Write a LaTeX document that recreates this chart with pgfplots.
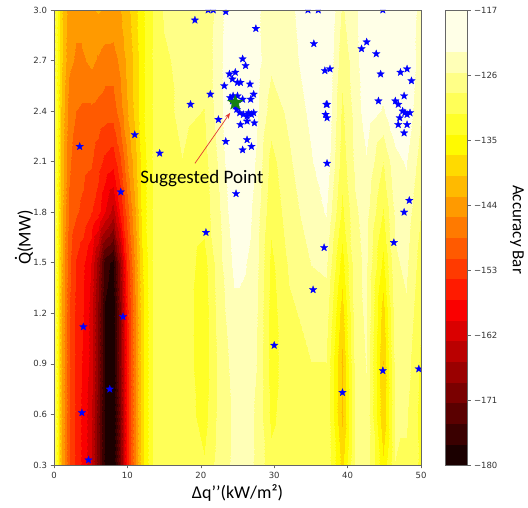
\documentclass[border=0pt]{standalone}
\usepackage{pgfplots}
\pgfplotsset{compat=1.18}
\usepackage{fontspec}
\setmainfont{Carlito}
\newfontfamily\dejavu{DejaVu Sans}
\usetikzlibrary{arrows.meta}
\definecolor{starblue}{RGB}{0,0,255}
\definecolor{stargreen}{RGB}{20,128,20}
\definecolor{arrowred}{RGB}{225,60,50}
\newcommand\Qdot{\leavevmode\setbox0\hbox{Q}\hbox to \wd0{\hss\raisebox{0.17em}{˙}\hss}\kern-\wd0\box0}
\pgfdeclareplotmark{fstar}{%
  \pgfpathmoveto{\pgfpointpolar{90}{\pgfplotmarksize}}%
  \pgfpathlineto{\pgfpointpolar{126}{0.42\pgfplotmarksize}}%
  \pgfpathlineto{\pgfpointpolar{162}{\pgfplotmarksize}}%
  \pgfpathlineto{\pgfpointpolar{198}{0.42\pgfplotmarksize}}%
  \pgfpathlineto{\pgfpointpolar{234}{\pgfplotmarksize}}%
  \pgfpathlineto{\pgfpointpolar{270}{0.42\pgfplotmarksize}}%
  \pgfpathlineto{\pgfpointpolar{306}{\pgfplotmarksize}}%
  \pgfpathlineto{\pgfpointpolar{342}{0.42\pgfplotmarksize}}%
  \pgfpathlineto{\pgfpointpolar{18}{\pgfplotmarksize}}%
  \pgfpathlineto{\pgfpointpolar{54}{0.42\pgfplotmarksize}}%
  \pgfpathclose
  \pgfusepathqfillstroke}
\begin{document}
\begin{tikzpicture}
\begin{axis}[
  name=main,
  scale only axis, width=367bp, height=455bp,
  view={0}{90},
  xmin=0, xmax=50, ymin=0.3, ymax=3.0,
  xtick={0,10,20,30,40,50}, xticklabels={0,10,20,30,40,50},
  ytick={0.3,0.6,0.9,1.2,1.5,1.8,2.1,2.4,2.7,3.0},
  yticklabels={0.3,0.6,0.9,1.2,1.5,1.8,2.1,2.4,2.7,3.0},
  ztick=\empty,
  xtick pos=left, ytick pos=left,
  tick label style={font=\dejavu\fontsize{8.5bp}{10bp}\selectfont, text=black!80},
  tick align=outside, major tick length=3.5bp,
  tick style={black!60, line width=0.6bp},
  axis line style={black!60, line width=0.6bp},
  axis on top,
  colormap={mhot}{rgb255=(27,0,0) rgb255=(58,0,0) rgb255=(90,0,0) rgb255=(122,0,0)
    rgb255=(154,0,0) rgb255=(186,0,0) rgb255=(218,0,0) rgb255=(250,0,0)
    rgb255=(255,27,0) rgb255=(255,58,0) rgb255=(255,90,0) rgb255=(255,122,0)
    rgb255=(255,154,0) rgb255=(255,186,0) rgb255=(255,218,0) rgb255=(255,250,0)
    rgb255=(255,255,40) rgb255=(255,255,88) rgb255=(255,255,135) rgb255=(255,255,183)
    rgb255=(255,255,231) rgb255=(255,255,231)},
  colormap access=piecewise constant,
  point meta min=-180, point meta max=-117,
  colorbar,
  colorbar shift/.style={xshift=24bp},
  colorbar style={
    at={(parent axis.north east)}, anchor=north west,
    width=22bp,
    colormap access=piecewise constant,
    ytick={-180,-171,-162,-153,-144,-135,-126,-117},
    yticklabels={−180,−171,−162,−153,−144,−135,−126,−117},
    yticklabel style={font=\dejavu\fontsize{8.5bp}{10bp}\selectfont, text=black!80},
    tick align=outside, major tick length=3.5bp,
    ytick pos=right,
    tick style={black!60, line width=0.6bp},
    axis line style={black!60, line width=0.6bp},
  },
  clip marker paths=true,
  xlabel={Δq’’(kW/m²)},
  ylabel={\Qdot(MW)},
  every axis x label/.style={at={(axis description cs:0.5,0)}, anchor=center, yshift=-28bp, font=\fontsize{18bp}{21bp}\selectfont},
  every axis y label/.style={at={(axis description cs:-0.0817,0.5)}, anchor=center, rotate=90, font=\fontsize{18bp}{21bp}\selectfont},
]
\addplot3[surf, shader=interp, mesh/rows=10, mesh/cols=32] coordinates {
(0,0.3,-128) (1,0.3,-142) (2,0.3,-151) (3,0.3,-155) (4,0.3,-158) (5,0.3,-162) (6,0.3,-170) (7,0.3,-178) (8,0.3,-180) (9,0.3,-170) (10,0.3,-156) (11,0.3,-146) (12,0.3,-138) (13.5,0.3,-131) (15,0.3,-129) (17.5,0.3,-129.5) (20.5,0.3,-131) (22.5,0.3,-127) (24.5,0.3,-125) (26,0.3,-124.5) (27.5,0.3,-126) (29.5,0.3,-130.5) (32,0.3,-129) (35,0.3,-129) (37,0.3,-129) (39.2,0.3,-138) (41,0.3,-128) (42.5,0.3,-126.5) (44.8,0.3,-136.5) (46.5,0.3,-128.5) (48,0.3,-129) (50,0.3,-132)

(0,0.6,-128) (1,0.6,-142) (2,0.6,-151) (3,0.6,-155) (4,0.6,-158) (5,0.6,-162) (6,0.6,-170) (7,0.6,-178) (8,0.6,-180) (9,0.6,-170) (10,0.6,-156) (11,0.6,-146) (12,0.6,-138) (13.5,0.6,-131) (15,0.6,-129.5) (17.5,0.6,-129.5) (20.5,0.6,-132.5) (22.5,0.6,-127.5) (24.5,0.6,-125) (26,0.6,-124) (27.5,0.6,-126) (29.5,0.6,-132) (32,0.6,-129.5) (35,0.6,-129) (37,0.6,-129) (39.2,0.6,-140.5) (41,0.6,-128) (42.5,0.6,-126) (44.8,0.6,-139.5) (46.5,0.6,-128) (48,0.6,-128) (50,0.6,-132.5)

(0,0.9,-128) (1,0.9,-142) (2,0.9,-151) (3,0.9,-155) (4,0.9,-157.5) (5,0.9,-161) (6,0.9,-169) (7,0.9,-177.5) (8,0.9,-179.5) (9,0.9,-169) (10,0.9,-156) (11,0.9,-146) (12,0.9,-138) (13.5,0.9,-131) (15,0.9,-129.5) (17.5,0.9,-129.5) (20.5,0.9,-133) (22.5,0.9,-127.5) (24.5,0.9,-124.5) (26,0.9,-124) (27.5,0.9,-125.5) (29.5,0.9,-132.5) (32,0.9,-129.5) (35,0.9,-128.5) (37,0.9,-128.5) (39.2,0.9,-140.5) (41,0.9,-127.5) (42.5,0.9,-125.5) (44.8,0.9,-140) (46.5,0.9,-127.5) (48,0.9,-127) (50,0.9,-132)

(0,1.2,-128) (1,1.2,-142) (2,1.2,-151) (3,1.2,-155) (4,1.2,-157) (5,1.2,-161) (6,1.2,-169) (7,1.2,-177.5) (8,1.2,-179) (9,1.2,-169) (10,1.2,-155.5) (11,1.2,-146) (12,1.2,-138) (13.5,1.2,-131) (15,1.2,-129.5) (17.5,1.2,-129.5) (20.5,1.2,-133) (22.5,1.2,-127) (24.5,1.2,-123.5) (26,1.2,-123.5) (27.5,1.2,-125) (29.5,1.2,-132.5) (32,1.2,-129) (35,1.2,-127.5) (37,1.2,-127) (39.2,1.2,-138.5) (41,1.2,-127) (42.5,1.2,-125) (44.8,1.2,-138.5) (46.5,1.2,-127) (48,1.2,-126) (50,1.2,-131)

(0,1.5,-128) (1,1.5,-141.5) (2,1.5,-150.5) (3,1.5,-154.5) (4,1.5,-156.5) (5,1.5,-160) (6,1.5,-167) (7,1.5,-176) (8,1.5,-178) (9,1.5,-167) (10,1.5,-154) (11,1.5,-145) (12,1.5,-137.5) (13.5,1.5,-131) (15,1.5,-129.5) (17.5,1.5,-129.5) (20.5,1.5,-132.5) (22.5,1.5,-126.5) (24.5,1.5,-122) (26,1.5,-122.5) (27.5,1.5,-124.5) (29.5,1.5,-132) (32,1.5,-128) (35,1.5,-125.5) (37,1.5,-125) (39.2,1.5,-135.5) (41,1.5,-126.5) (42.5,1.5,-125) (44.8,1.5,-135) (46.5,1.5,-126) (48,1.5,-125) (50,1.5,-130)

(0,1.8,-128) (1,1.8,-141) (2,1.8,-149) (3,1.8,-151) (4,1.8,-152) (5,1.8,-154) (6,1.8,-156) (7,1.8,-160) (8,1.8,-164) (9,1.8,-157) (10,1.8,-150) (11,1.8,-143) (12,1.8,-136) (13.5,1.8,-131) (15,1.8,-129) (17.5,1.8,-129) (20.5,1.8,-130) (22.5,1.8,-126) (24.5,1.8,-120.5) (26,1.8,-121) (27.5,1.8,-124) (29.5,1.8,-130.5) (32,1.8,-127) (35,1.8,-124) (37,1.8,-122.5) (39.2,1.8,-132) (41,1.8,-126) (42.5,1.8,-124.5) (44.8,1.8,-131.5) (46.5,1.8,-125) (48,1.8,-124) (50,1.8,-128.5)

(0,2.1,-129) (1,2.1,-140) (2,2.1,-148) (3,2.1,-150) (4,2.1,-150.5) (5,2.1,-151) (6,2.1,-153) (7,2.1,-155) (8,2.1,-156) (9,2.1,-152) (10,2.1,-146) (11,2.1,-141) (12,2.1,-136) (13.5,2.1,-131) (15,2.1,-129) (17.5,2.1,-128.5) (20.5,2.1,-129.5) (22.5,2.1,-125) (24.5,2.1,-119) (26,2.1,-120) (27.5,2.1,-123) (29.5,2.1,-129.5) (32,2.1,-126) (35,2.1,-123) (37,2.1,-120.5) (39.2,2.1,-130) (41,2.1,-125) (42.5,2.1,-123) (44.8,2.1,-128.5) (46.5,2.1,-123.5) (48,2.1,-122.5) (50,2.1,-127)

(0,2.4,-129) (1,2.4,-140) (2,2.4,-147) (3,2.4,-148.5) (4,2.4,-149) (5,2.4,-149) (6,2.4,-149.5) (7,2.4,-150) (8,2.4,-150) (9,2.4,-147) (10,2.4,-143) (11,2.4,-139) (12,2.4,-135) (13.5,2.4,-131) (15,2.4,-129) (17.5,2.4,-128) (20.5,2.4,-128.5) (22.5,2.4,-124) (24.5,2.4,-118) (26,2.4,-119.5) (27.5,2.4,-122) (29.5,2.4,-127) (32,2.4,-125) (35,2.4,-122) (37,2.4,-119.5) (39.2,2.4,-129) (41,2.4,-124.5) (42.5,2.4,-121) (44.8,2.4,-123) (46.5,2.4,-121) (48,2.4,-120.5) (50,2.4,-125.5)

(0,2.7,-130) (1,2.7,-139) (2,2.7,-145) (3,2.7,-146) (4,2.7,-146) (5,2.7,-145) (6,2.7,-146) (7,2.7,-147) (8,2.7,-147) (9,2.7,-145) (10,2.7,-142) (11,2.7,-139) (12,2.7,-135) (13.5,2.7,-131) (15,2.7,-129) (17.5,2.7,-127.5) (20.5,2.7,-127.5) (22.5,2.7,-124) (24.5,2.7,-118) (26,2.7,-119.5) (27.5,2.7,-121.5) (29.5,2.7,-125) (32,2.7,-124) (35,2.7,-121) (37,2.7,-119) (39.2,2.7,-127.5) (41,2.7,-124) (42.5,2.7,-120) (44.8,2.7,-120.5) (46.5,2.7,-120) (48,2.7,-119.5) (50,2.7,-124.5)

(0,3.0,-130) (1,3.0,-139) (2,3.0,-144) (3,3.0,-145) (4,3.0,-144) (5,3.0,-143) (6,3.0,-142.5) (7,3.0,-143) (8,3.0,-143.5) (9,3.0,-143) (10,3.0,-141) (11,3.0,-138) (12,3.0,-135) (13.5,3.0,-131) (15,3.0,-128) (17.5,3.0,-127) (20.5,3.0,-127.5) (22.5,3.0,-124.5) (24.5,3.0,-118.5) (26,3.0,-120) (27.5,3.0,-122) (29.5,3.0,-124.5) (32,3.0,-123.5) (35,3.0,-120.5) (37,3.0,-118.5) (39.2,3.0,-126) (41,3.0,-123.5) (42.5,3.0,-120) (44.8,3.0,-119.5) (46.5,3.0,-120.5) (48,3.0,-120) (50,3.0,-124)
};
\addplot[only marks, mark=fstar, mark size=4bp, draw=starblue, fill=starblue, line width=0.2bp] coordinates {
(3.5,2.19) (11.0,2.26) (14.4,2.15) (9.1,1.92) (18.6,2.44) (19.2,2.94) (21.0,3.0) (21.7,3.0) (23.4,2.99) (27.5,2.89)
(20.7,1.68) (24.8,1.91) (21.3,2.50) (22.4,2.35) (23.4,2.22) (25.7,2.17) (26.9,2.19) (26.3,2.23) (25.7,2.71) (26.1,2.67)
(23.9,2.62) (24.7,2.63) (24.3,2.59) (25.0,2.57) (25.4,2.57) (26.7,2.56) (23.2,2.55) (27.2,2.50) (26.8,2.47) (25.7,2.47)
(24.0,2.48) (24.4,2.49) (25.0,2.49) (24.3,2.46) (24.7,2.43) (24.9,2.41) (25.3,2.39) (25.8,2.38) (26.3,2.37) (26.5,2.39)
(26.9,2.38) (27.2,2.39) (25.4,2.32) (26.3,2.34) (27.3,2.33)
(34.6,3.0) (36.0,3.0) (44.8,3.0) (35.4,2.80) (41.9,2.77) (42.6,2.81) (43.9,2.74) (36.9,2.64) (37.6,2.65) (44.5,2.62)
(47.2,2.63) (48.1,2.65) (48.7,2.58) (44.2,2.46) (37.1,2.44) (37.2,2.44) (37.0,2.38) (37.2,2.36) (46.5,2.46) (46.9,2.44)
(47.7,2.49) (47.5,2.40) (47.8,2.39) (48.1,2.38) (48.5,2.39) (47.1,2.36) (46.9,2.32) (48.1,2.32) (47.7,2.27) (37.2,2.09)
(48.4,1.87) (47.7,1.80) (46.3,1.62) (36.8,1.59)
(4.0,1.12) (9.4,1.18) (7.6,0.75) (3.8,0.61) (4.7,0.33) (35.3,1.34) (30.0,1.01) (39.3,0.73) (44.8,0.86) (49.7,0.87)
};
\addplot[only marks, mark=fstar, mark size=8bp, draw=stargreen, fill=stargreen, line width=0.2bp] coordinates {(24.7,2.45)};
\draw[arrowred, line width=0.7bp, -{Stealth[length=6bp,width=4.5bp]}] (axis cs:19.2,2.09) -- (axis cs:24.0,2.39);
\node[anchor=base, font=\fontsize{19bp}{22bp}\selectfont] at (axis cs:20.16,1.973) {Suggested Point};
\end{axis}
\node[rotate=-90, font=\fontsize{17bp}{20bp}\selectfont] at ([xshift=96bp,yshift=8bp]main.east) {Accuracy Bar};
\pgfresetboundingbox
\path[use as bounding box] ([xshift=-54bp,yshift=-43bp]main.south west) rectangle ([xshift=107bp,yshift=10bp]main.north east);
\end{tikzpicture}
\end{document}
